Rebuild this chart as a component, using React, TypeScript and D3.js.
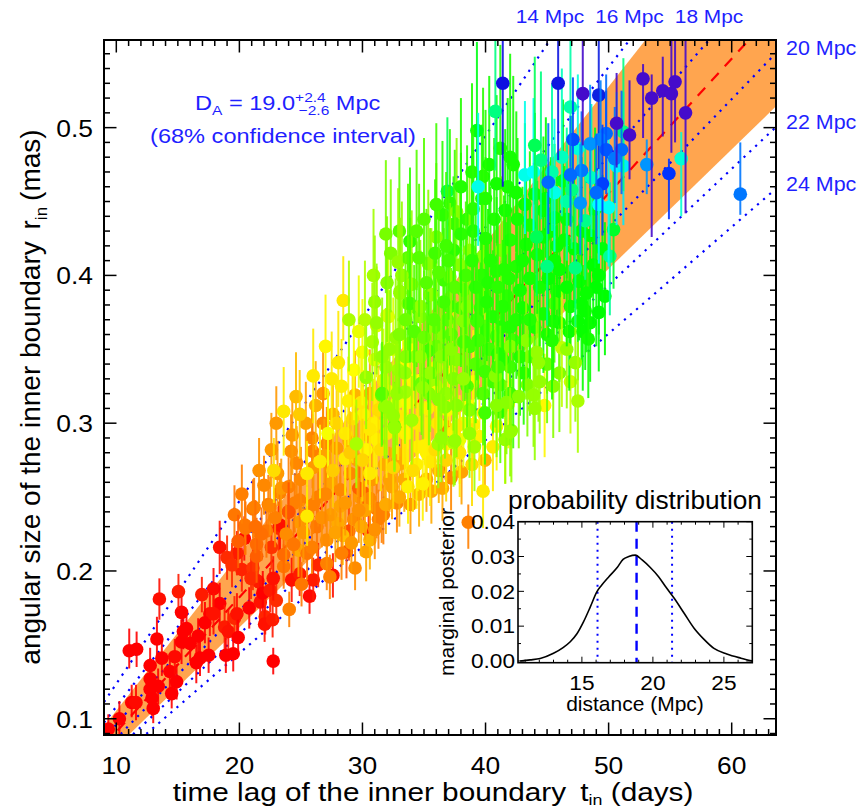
import React from 'react';
import * as d3 from 'd3';

type Pt = [number, number, number, number, number]; // t_in, r_in, errUp, errDown, hue

const redPoints: Pt[] = [
[9.35,.093,.010,.010,0],[10.25,.100,.012,.012,0],[11.25,.111,.012,.010,0],[11.6,.111,.012,.012,2],[13.0,.107,.010,.010,0],[12.9,.114,.012,.012,0],[11.05,.146,.015,.012,0],[11.65,.147,.012,.012,0],[12.75,.136,.012,.012,0],[12.75,.127,.014,.012,0],[13.3,.154,.015,.015,0],[13.5,.181,.014,.014,3],[13.7,.141,.012,.012,0],[12.75,.120,.012,.010,0],[13.4,.122,.012,.012,0],[14.35,.132,.012,.012,0],[14.5,.117,.010,.010,0],[14.9,.125,.012,.012,0],[14.75,.142,.012,.012,2],[15.3,.152,.015,.015,0],[15.45,.159,.012,.012,0],[15.3,.172,.015,.012,0],[15.05,.186,.012,.012,6],[15.7,.161,.012,.012,0],[16.0,.151,.012,.012,0],[16.65,.156,.012,.012,0],[16.5,.138,.012,.014,0],[16.8,.141,.012,.012,0],[16.95,.184,.012,.012,6],[17.6,.171,.015,.015,4],[17.2,.165,.014,.014,0],[17.5,.143,.012,.012,0],[17.9,.188,.014,.014,2],[18.4,.178,.014,.014,0],[18.4,.216,.018,.018,4],[17.9,.171,.014,.014,4],[18.8,.162,.015,.015,6],[18.9,.143,.012,.012,0],[19.1,.159,.015,.015,4],[19.5,.144,.012,.012,0],[19.6,.168,.015,.015,9],[19.8,.171,.014,.014,4],[19.9,.155,.012,.012,0],[19.8,.212,.015,.015,6],[19.0,.209,.015,.015,10],[20.4,.222,.015,.015,2],[20.8,.175,.014,.014,0],[20.2,.201,.015,.015,8],[21.5,.193,.015,.015,6],[21.7,.179,.015,.015,4],[21.9,.185,.015,.015,0],[22.5,.187,.015,.015,6],[22.1,.169,.012,.012,9],[22.05,.164,.012,.012,4],[22.7,.167,.012,.012,6],[23.0,.180,.014,.014,10],[22.75,.139,.009,.009,0],[22.75,.195,.015,.015,4],[23.2,.229,.018,.018,9],[22.6,.216,.015,.015,12],[21.1,.202,.015,.015,12],[20.95,.195,.014,.014,10],[24.25,.194,.015,.015,4],[24.9,.198,.015,.015,6],[25.7,.183,.012,.012,2],[26.0,.194,.015,.015,6],[26.4,.204,.015,.015,9],[27.6,.197,.015,.015,4],[30.5,.227,.018,.018,6],[24.0,.240,.020,.020,9],[19.4,.204,.015,.015,11],[23.3,.231,.018,.018,4]
];

const orangePoints: Pt[] = [
[23.6,.203,.015,.015,28],[24.05,.174,.012,.012,30],[25.05,.191,.015,.015,28],[27.35,.196,.015,.015,30],[29.4,.202,.015,.015,33],[24.8,.214,.018,.018,40],[25.5,.212,.018,.018,28],[27.1,.205,.018,.018,30],[28.7,.213,.018,.018,20],[30.3,.213,.020,.020,38],[30.6,.221,.020,.020,42],[28.9,.227,.020,.020,18],[28.4,.224,.020,.020,45],[31.3,.235,.020,.020,30],[31.7,.238,.020,.020,30],[21.1,.242,.020,.020,28],[22.35,.245,.020,.020,30],[22.2,.227,.018,.018,28],[24.5,.246,.020,.020,30],[24.9,.233,.020,.020,36],[25.5,.238,.020,.020,30],[26.3,.230,.020,.020,28],[27.1,.221,.020,.020,33],[28.0,.232,.020,.020,40],[27.4,.238,.020,.020,36],[26.0,.245,.020,.020,30],[28.2,.244,.020,.020,38],[29.3,.235,.020,.020,33],[29.8,.250,.020,.020,36],[23.3,.253,.020,.020,30],[21.4,.218,.018,.018,25],[20.5,.229,.018,.018,28],[23.6,.211,.018,.018,25],[21.4,.210,.018,.018,22],
[26.8,.320,.030,.030,36],[23.0,.300,.025,.025,36],[26.8,.300,.025,.025,32],[27.6,.306,.025,.025,42],[25.9,.290,.025,.025,32],[25.95,.281,.025,.025,30],[27.1,.286,.025,.025,32],[24.65,.273,.025,.025,32],[23.4,.256,.020,.020,36],[24.0,.257,.020,.020,30],[21.2,.243,.020,.020,30],[22.5,.244,.020,.020,32],[24.0,.240,.020,.020,20],[24.9,.248,.020,.020,30],[20.45,.231,.020,.020,28],[26.4,.250,.020,.020,30],[27.4,.260,.022,.022,38],[28.2,.255,.022,.022,32],[29.0,.266,.022,.022,32],[29.7,.256,.022,.022,22],[30.07,.253,.022,.022,22],[30.6,.320,.030,.030,38],[31.15,.242,.020,.020,30],[30.6,.249,.020,.020,32],[31.56,.239,.020,.020,30],[32.8,.246,.020,.020,32],[33.0,.250,.020,.020,40],[35.6,.254,.022,.022,40],[37.2,.263,.022,.022,32],[38.05,.267,.022,.022,38],[39.95,.275,.025,.025,42],[36.2,.268,.022,.022,42],[38.6,.233,.012,.018,30],[36.7,.298,.030,.030,28],[29.4,.319,.030,.030,42],
[21.8,.225,.018,.018,26],[22.9,.236,.020,.020,30],[23.8,.225,.020,.020,33],[24.4,.218,.018,.018,28],[25.2,.226,.020,.020,35],[25.9,.216,.018,.018,30],[26.7,.236,.020,.020,34],[27.8,.226,.020,.020,38],[28.3,.212,.018,.018,30],[29.1,.219,.020,.020,36],[29.9,.230,.020,.020,40],[30.2,.241,.020,.020,38],[31.0,.228,.020,.020,34],[31.9,.245,.020,.020,40],[32.4,.257,.022,.022,38],[33.4,.262,.022,.022,40],[33.9,.245,.020,.020,36],[34.6,.252,.022,.022,42],[35.2,.262,.022,.022,38],[36.5,.256,.022,.022,40],[22.0,.258,.020,.020,32],[23.1,.266,.022,.022,36],[24.2,.281,.025,.025,34],[25.0,.262,.022,.022,32],[26.0,.270,.022,.022,36],[26.9,.278,.025,.025,38],[27.9,.283,.025,.025,36],[28.9,.288,.025,.025,40],[29.6,.275,.025,.025,38],[30.8,.262,.022,.022,36],[31.8,.272,.025,.025,40],[32.7,.280,.025,.025,42],[25.4,.300,.028,.028,38],[24.3,.292,.027,.027,36],[22.6,.282,.025,.025,36],[21.6,.268,.022,.022,34],[20.2,.252,.020,.020,30],[19.6,.238,.020,.020,28],[19.9,.220,.018,.018,22],[21.3,.230,.018,.018,26],[27.0,.252,.022,.022,32],[28.6,.246,.022,.022,36],[29.7,.241,.022,.022,34],[32.2,.262,.022,.022,38],[33.2,.273,.025,.025,40],[30.4,.292,.027,.027,40],[26.2,.312,.030,.030,42],[24.6,.318,.030,.030,44]
];

const yellowPoints: Pt[] = [
[28.44,.383,.030,.027,55],[28.04,.341,.035,.030,55],[23.6,.308,.030,.030,55],[24.9,.306,.030,.030,48],[27.2,.293,.030,.030,62],[26.55,.274,.025,.025,55],[22.8,.268,.022,.022,52],[25.5,.266,.022,.022,55],[25.5,.237,.020,.020,55],[27.6,.268,.025,.025,48],[28.6,.276,.025,.025,55],[30.6,.266,.025,.025,55],[30.3,.282,.025,.025,58],[28.6,.293,.030,.030,55],[28.85,.315,.030,.030,57],[30.07,.306,.030,.030,57],[30.9,.300,.030,.030,55],[31.7,.329,.035,.030,68],[31.0,.343,.035,.035,68],[31.15,.366,.040,.035,68],[32.1,.372,.040,.035,68],[32.5,.350,.035,.035,68],[33.3,.338,.035,.035,58],[33.9,.352,.035,.035,58],[36.0,.338,.035,.035,57],[34.7,.329,.035,.035,58],[32.8,.314,.035,.035,65],[31.96,.293,.030,.030,55],[33.45,.293,.030,.030,55],[34.5,.284,.030,.030,57],[34.4,.272,.030,.030,57],[35.2,.280,.030,.030,57],[35.5,.274,.030,.030,55],[34.9,.259,.025,.025,57],[33.7,.257,.025,.025,57],[39.8,.254,.025,.025,55],[36.8,.286,.030,.030,58],[37.9,.289,.030,.030,65],[39.0,.299,.030,.030,57],[38.2,.300,.030,.030,65],[39.8,.307,.030,.030,57],[41.85,.313,.030,.030,57],
[32.0,.373,.040,.035,68],[44.8,.312,.035,.035,58],[46.9,.328,.035,.035,72],[33.86,.354,.035,.035,72],[34.1,.329,.035,.035,58],[36.0,.325,.035,.035,58],[37.1,.333,.035,.035,58],[39.0,.328,.035,.035,58],[37.4,.342,.035,.035,57],[39.0,.299,.030,.030,57],[39.5,.291,.030,.030,57],[41.6,.289,.030,.030,57],[37.4,.294,.030,.030,57],[35.1,.285,.030,.030,57],[33.6,.293,.030,.030,57],[33.3,.302,.030,.030,57],[31.15,.289,.030,.030,57],[31.0,.299,.030,.030,57],[40.0,.362,.035,.035,72],
[29.2,.303,.030,.030,52],[29.9,.314,.030,.030,55],[30.6,.296,.030,.030,55],[31.3,.309,.030,.030,52],[32.0,.322,.032,.032,58],[32.9,.305,.030,.030,55],[33.7,.314,.032,.032,58],[34.4,.300,.030,.030,55],[35.3,.310,.032,.032,56],[36.1,.300,.030,.030,55],[36.9,.309,.032,.032,58],[37.7,.298,.030,.030,55],[38.6,.312,.032,.032,58],[35.9,.282,.030,.030,52],[34.1,.268,.028,.028,52],[36.8,.275,.028,.028,50],[37.9,.280,.030,.030,54],[38.9,.272,.028,.028,52],[40.6,.284,.030,.030,55],[40.9,.298,.030,.030,58],[31.5,.282,.028,.028,52],[32.5,.270,.028,.028,50],[30.0,.275,.028,.028,50],[29.0,.280,.028,.028,48],[27.9,.300,.030,.030,50],[28.3,.325,.032,.032,56],[29.3,.336,.034,.034,60],[30.0,.348,.036,.036,62],[29.7,.362,.038,.038,65],[27.5,.330,.032,.032,55],[27.0,.352,.035,.035,58],[26.0,.332,.032,.032,55]
];

const greenPoints: Pt[] = [
[28.9,.370,.040,.035,80],[29.5,.286,.030,.030,80],[31.56,.319,.035,.035,95],[31.8,.311,.035,.035,85],[30.3,.331,.035,.035,85],[32.9,.336,.035,.035,82],[33.45,.321,.035,.035,82],[34.3,.345,.035,.035,85],[35.35,.349,.040,.035,100],[35.5,.329,.035,.035,82],[34.8,.327,.035,.035,95],[34.0,.302,.030,.030,82],[32.6,.298,.030,.030,95],[32.5,.305,.030,.030,85],[37.4,.287,.030,.030,80],[36.16,.286,.030,.030,82],[39.1,.284,.030,.030,82],[36.7,.311,.035,.035,88],[37.65,.312,.035,.035,88],[38.7,.309,.035,.035,88],[41.2,.308,.035,.035,100],[42.1,.295,.035,.035,85],[41.6,.289,.030,.030,85],[36.8,.320,.035,.035,85],[38.5,.325,.040,.035,100],[39.8,.320,.040,.035,100],[40.6,.328,.040,.035,105],[42.25,.318,.040,.035,105],[36.0,.365,.045,.040,100],[36.6,.359,.045,.040,88],[37.65,.343,.040,.040,88],[38.2,.355,.045,.040,100],[38.7,.352,.045,.040,105],[39.3,.370,.045,.040,105],[40.1,.363,.045,.040,88],[40.9,.359,.045,.040,105],[41.2,.347,.045,.040,105],[42.0,.338,.040,.040,105],[42.25,.356,.045,.040,105],[34.4,.378,.045,.040,100],[35.5,.387,.045,.040,100],[33.05,.388,.045,.040,85],[33.9,.394,.045,.040,85],[33.7,.381,.045,.040,100],[34.7,.372,.045,.040,88],[36.6,.397,.050,.040,105],[37.1,.379,.045,.040,105],[39.8,.385,.050,.040,110],[38.2,.390,.050,.040,105],[41.7,.386,.050,.040,110],[39.7,.400,.050,.040,110],
[36.9,.370,.045,.040,100],[38.0,.378,.045,.040,105],[39.6,.378,.045,.040,110],[40.6,.372,.045,.040,112],[41.3,.365,.045,.040,112],[43.0,.378,.045,.040,115],[44.0,.365,.045,.040,115],[45.0,.360,.045,.040,112],[46.0,.368,.045,.040,115],[46.8,.362,.045,.040,118],[48.5,.368,.045,.040,118],[49.2,.375,.045,.040,120],
[36.0,.352,.045,.040,95],[37.2,.360,.045,.040,100],[40.3,.350,.040,.040,105],[43.6,.345,.040,.040,100],[45.0,.340,.040,.040,95],[46.0,.334,.040,.040,90],[45.5,.325,.040,.035,88],[43.4,.326,.040,.035,90],[41.2,.326,.040,.035,95],[39.2,.340,.040,.040,100],[37.4,.330,.040,.035,90],[36.2,.316,.038,.035,88],[35.4,.320,.038,.035,88],[33.5,.345,.040,.040,88],[32.7,.358,.040,.040,85],[31.9,.338,.040,.035,82],[30.8,.355,.040,.040,80],[30.2,.370,.040,.040,78],[31.0,.382,.045,.040,85],[32.0,.395,.045,.040,88],[32.3,.415,.050,.040,90],[31.9,.428,.050,.040,92],[33.0,.430,.050,.040,100],[30.9,.400,.045,.040,82],
[41.2,.486,.070,.040,112],[42.0,.480,.070,.040,115],[42.25,.475,.060,.040,115],[39.8,.467,.060,.040,110],[39.7,.452,.050,.040,112],[36.9,.457,.050,.040,140],[37.1,.449,.050,.040,110],[36.5,.441,.050,.040,110],[37.65,.443,.050,.040,88],[38.5,.438,.050,.040,110],[37.5,.435,.050,.040,105],[33.86,.423,.050,.040,110],[36.0,.426,.050,.040,88],[32.9,.409,.050,.040,85],[33.7,.412,.050,.040,100],[35.35,.408,.050,.040,88],[33.2,.400,.050,.040,85],[33.05,.389,.050,.040,85],[34.0,.394,.050,.040,85],[35.6,.387,.045,.040,85],[33.86,.381,.045,.040,105],[34.7,.379,.045,.040,85],[37.1,.399,.050,.040,88],[37.9,.407,.050,.040,88],[38.7,.417,.050,.040,88],[37.4,.417,.050,.040,110],[39.8,.413,.050,.040,88],[39.7,.400,.050,.040,110],[40.9,.403,.050,.040,112],[41.3,.417,.050,.040,90],[42.0,.424,.050,.040,112],[42.5,.406,.050,.040,112],[43.3,.421,.050,.040,115],[43.6,.434,.050,.040,115],[42.5,.456,.055,.040,115],[44.7,.444,.050,.040,118],[45.6,.439,.050,.040,118],[44.7,.426,.050,.040,118],[45.8,.420,.050,.040,118],[45.8,.389,.045,.040,118],[48.5,.427,.050,.040,120],[48.75,.407,.050,.040,120],[49.2,.400,.050,.040,120],[49.0,.392,.050,.040,120],[49.7,.386,.050,.040,120],[46.6,.438,.050,.040,118],[46.3,.464,.055,.040,125],[47.8,.381,.045,.040,118],[48.1,.376,.045,.040,118],[47.5,.369,.045,.040,118],[47.9,.362,.045,.040,118],[48.35,.357,.045,.040,115],[46.9,.379,.045,.040,118],[45.6,.381,.045,.040,100],[45.5,.369,.045,.040,115],[44.7,.374,.045,.040,115],[46.2,.351,.040,.040,75],[46.6,.350,.040,.040,85],[47.3,.341,.040,.040,85],[47.5,.315,.040,.035,80],[45.4,.356,.040,.040,112],[44.15,.348,.040,.040,85],[44.3,.341,.040,.040,85],[44.4,.328,.040,.035,85],[43.9,.319,.040,.035,85],[44.0,.310,.040,.035,85],[43.1,.334,.040,.035,112],[42.8,.345,.040,.040,112],[43.3,.356,.040,.040,88],[42.0,.352,.040,.040,88],[41.4,.343,.040,.040,112],[41.0,.347,.040,.040,112],[42.0,.365,.045,.040,112],[42.5,.370,.045,.040,112],[43.6,.370,.045,.040,112],[41.4,.379,.045,.040,112],[40.1,.382,.045,.040,112],[38.5,.379,.045,.040,88],[38.2,.369,.045,.040,88],[39.3,.369,.045,.040,105],[39.4,.356,.040,.040,105],[38.3,.355,.040,.040,105],[37.2,.350,.040,.040,88],[36.4,.345,.040,.040,88],[35.35,.349,.040,.040,105],[34.7,.345,.040,.040,85],[32.2,.350,.040,.040,85],[31.6,.345,.040,.040,85],[31.15,.368,.040,.035,85],[31.6,.320,.035,.035,100],[31.96,.311,.035,.035,85],[32.8,.320,.035,.035,85],[33.45,.334,.035,.035,85],[34.9,.324,.035,.035,85],[35.5,.334,.035,.035,85],[38.2,.330,.035,.035,85],[39.95,.335,.035,.035,105],[40.8,.332,.035,.035,88],[41.0,.338,.035,.035,105],[42.0,.320,.035,.035,105],[42.7,.318,.035,.035,88],[41.7,.314,.035,.035,88],[40.9,.312,.035,.035,88],[39.95,.307,.035,.035,105],[38.7,.293,.030,.030,85],[42.0,.294,.030,.030,85],[37.5,.288,.030,.030,85],[36.4,.290,.030,.030,85],[32.6,.297,.030,.030,85],[39.3,.498,.060,.040,125],
[33.0,.360,.045,.040,90],[33.5,.370,.045,.040,95],[34.2,.362,.045,.040,100],[35.0,.358,.045,.040,95],[35.8,.370,.045,.040,100],[36.6,.382,.050,.040,105],[37.5,.392,.050,.040,100],[38.4,.400,.050,.040,105],[39.2,.392,.050,.040,110],[40.2,.395,.050,.040,112],[41.0,.392,.050,.040,110],[41.9,.398,.050,.040,112],[42.8,.390,.050,.040,115],[43.6,.398,.050,.040,115],[44.4,.392,.050,.040,115],[45.1,.398,.050,.040,118],[46.0,.404,.050,.040,118],[46.6,.392,.050,.040,118],[47.6,.396,.050,.040,118],[48.2,.388,.050,.040,118],
[34.6,.412,.050,.040,100],[35.9,.415,.050,.040,105],[36.8,.420,.050,.040,105],[38.0,.428,.055,.040,110],[39.0,.430,.055,.040,112],[40.0,.425,.055,.040,112],[40.7,.438,.055,.040,112],[41.6,.444,.055,.040,115],[42.6,.438,.055,.040,115],[43.2,.448,.055,.040,118],[44.0,.455,.055,.040,118],[44.9,.452,.055,.040,120],[45.3,.430,.050,.040,118],[46.4,.424,.050,.040,118],[47.2,.418,.050,.040,120],[47.8,.430,.050,.040,120],[49.5,.418,.050,.040,122],[48.9,.445,.055,.040,125],
[35.2,.395,.050,.040,100],[36.2,.402,.050,.040,100],[37.0,.410,.050,.040,105],[38.9,.410,.050,.040,110],[40.4,.410,.050,.040,112],[41.5,.404,.050,.040,112],[43.0,.410,.050,.040,115],[44.2,.414,.050,.040,115],[45.6,.410,.050,.040,118],
[38.0,.460,.060,.040,112],[38.9,.470,.060,.040,112],[40.3,.475,.060,.040,115],[40.9,.462,.060,.040,115],[41.8,.460,.060,.040,115],[36.0,.448,.055,.040,105],[35.0,.438,.055,.040,100],[34.4,.430,.055,.040,100],[40.0,.452,.060,.040,112],[39.0,.445,.055,.040,110]
];

const cyanPoints: Pt[] = [
[39.4,.460,.050,.040,175],[43.2,.468,.050,.040,175],[43.9,.470,.050,.040,180],[45.6,.456,.050,.040,175],[46.6,.450,.050,.040,158],[45.0,.406,.050,.040,150],[47.3,.405,.050,.040,150],[48.1,.437,.050,.040,152],[50.1,.413,.050,.040,155],[50.4,.431,.050,.040,130],[50.0,.446,.050,.040,178],[47.5,.486,.050,.040,172],[50.65,.474,.050,.040,182],[51.2,.474,.050,.040,185],[44.15,.426,.050,.040,140],[46.9,.514,.060,.040,160],[51.2,.497,.050,.040,150],[55.9,.479,.018,.039,170],[49.2,.448,.050,.040,180],[40.8,.511,.070,.040,150],
[44.5,.478,.060,.040,150],[45.4,.470,.060,.040,160],[46.2,.480,.060,.040,165],[44.0,.488,.060,.040,140],[48.6,.466,.050,.040,165],[47.0,.458,.050,.040,150]
];

const bluePoints: Pt[] = [
[41.4,.530,.060,.070,240],[45.9,.530,.060,.052,238],[49.2,.522,.050,.050,235],[49.8,.496,.040,.035,215],[49.35,.492,.040,.035,210],[48.5,.489,.040,.030,205],[47.1,.492,.042,.030,222],[49.8,.485,.040,.030,220],[51.05,.485,.040,.030,215],[50.5,.479,.035,.030,212],[53.1,.475,.017,.020,205],[54.9,.469,.010,.031,228],[60.7,.455,.035,.014,212],[47.8,.471,.040,.035,212],[49.5,.462,.040,.035,225],[49.0,.456,.040,.035,215],[47.7,.449,.040,.035,205],[45.1,.463,.040,.035,215],[46.9,.468,.040,.035,215]
];

const purplePoints: Pt[] = [
[47.9,.523,.040,.035,258],[52.8,.533,.010,.040,258],[53.5,.520,.016,.094,258],[54.4,.525,.023,.031,258],[55.1,.523,.037,.040,258],[55.4,.531,.030,.041,258],[56.25,.510,.050,.068,258],[50.65,.503,.034,.030,258],[51.7,.495,.037,.030,258]
];

// distance lines (Mpc)
const labelDistances = [14, 16, 18, 20, 22, 24];
const bestDistance = 19.0;
const distanceLow = 16.4;
const distanceHigh = 21.4;
const masPerLightDayPerMpc = 0.1731;

const xTickValues = [10, 20, 30, 40, 50, 60];
const yTickValues = [0.1, 0.2, 0.3, 0.4, 0.5];

// inset posterior
const insetDistance = [10.65, 11.35, 12.06, 13.0, 13.7, 14.18, 14.65, 15.12, 15.6, 16.06, 16.4, 16.9, 17.5, 17.9, 18.3, 18.76, 19.24, 19.8, 20.4, 20.9, 21.5, 22.2, 22.9, 23.6, 24.3, 25.2, 26.2, 27.0];
const insetPosterior = [0.0, 0.0003, 0.0007, 0.0022, 0.0039, 0.0055, 0.0078, 0.0113, 0.0156, 0.0199, 0.0218, 0.0242, 0.0269, 0.0292, 0.0300, 0.0304, 0.0290, 0.0269, 0.0242, 0.0213, 0.0180, 0.0137, 0.0094, 0.0062, 0.0036, 0.0020, 0.0008, 0.0];
const insetXTickValues = [15, 20, 25];
const insetYTickValues = [0, 0.01, 0.02, 0.03, 0.04];
const insetIntervalLines = [16.1, 21.35];
const insetBestLine = 18.85;

const FONT = "'Liberation Sans', Arial, Helvetica, sans-serif";
const BLUE = '#1f1fff';

function hueColor(h: number): string {
  if (h >= 250) return d3.hsl(h, 0.9, 0.42).formatHex();
  if (h >= 230) return d3.hsl(h, 0.88, 0.47).formatHex();
  return d3.hsl(h, 1, 0.5).formatHex();
}

function T(props: { x: number; y: number; size: number; sx?: number; anchor?: string; rot?: number; fill?: string; children: any }) {
  const { x, y, size, sx = 1, anchor = 'start', rot = 0, fill = '#000', children } = props;
  return (
    <g transform={`translate(${x},${y}) rotate(${rot}) scale(${sx},1)`}>
      <text x={0} y={0} fontSize={size} textAnchor={anchor as any} fill={fill} fontFamily={FONT}>{children}</text>
    </g>
  );
}

export default function App() {
  const W = 859, H = 809;
  const x = d3.scaleLinear().domain([9, 63.6]).range([104, 776]);
  const y = d3.scaleLinear().domain([0.089, 0.5593]).range([735, 40]);
  const [xL, xR] = x.range();
  const [yB, yT] = y.range();
  const [tMin, tMax] = x.domain();
  const [, rMax] = y.domain();
  const K = masPerLightDayPerMpc;

  const tSpan = [tMin, tMax];
  const band = d3.area<number>().x(t => x(t)).y0(t => y(K * t / distanceHigh)).y1(t => y(K * t / distanceLow))(tSpan) || '';
  const distLine = (D: number) => d3.line<number>().x(t => x(t)).y(t => y(K * t / D))(tSpan) || '';

  const xMinor = d3.range(Math.ceil(tMin), Math.floor(tMax) + 1);
  const yMinor = d3.range(9, 56).map(v => v / 100);

  const allPoints = [redPoints, orangePoints, yellowPoints, greenPoints, cyanPoints, bluePoints, purplePoints].flat();

  // inset
  const ix = d3.scaleLinear().domain([10.5, 27]).range([518, 752.3]);
  const iy = d3.scaleLinear().domain([-0.0005, 0.04]).range([662.7, 521.7]);
  const [ixL, ixR] = ix.range();
  const [iyB, iyT] = iy.range();
  const curve = d3.line<number>().x((_, i) => ix(insetDistance[i])).y(v => iy(v)).curve(d3.curveMonotoneX)(insetPosterior) || '';
  const insetXMinor = d3.range(11, 28);
  const insetYMinor = d3.range(0, 41, 5).map(v => v / 1000);

  return (
    <svg width={W} height={H} viewBox={`0 0 ${W} ${H}`} style={{ position: 'absolute', left: 0, top: 0, background: '#fff' }}>
      <defs>
        <clipPath id="plotClip"><rect x={xL} y={yT} width={xR - xL} height={yB - yT} /></clipPath>
      </defs>
      <rect x={0} y={0} width={W} height={H} fill="#fff" />
      <g clipPath="url(#plotClip)">
        <path d={band} fill="#ffa54f" stroke="none" />
        <path d={distLine(bestDistance)} fill="none" stroke="#ff0000" strokeWidth={2.2} strokeDasharray="11 9" />
        {labelDistances.map(D => (
          <path key={D} d={distLine(D)} fill="none" stroke="#0000ff" strokeWidth={2.2} strokeDasharray="2.2 5.8" />
        ))}
        {allPoints.map(([t, r, up, dn, h], i) => {
          const c = hueColor(h);
          return (
            <g key={i}>
              <line x1={x(t)} x2={x(t)} y1={y(r + up)} y2={y(r - dn)} stroke={c} strokeWidth={2} strokeOpacity={0.9} />
              <circle cx={x(t)} cy={y(r)} r={6.8} fill={c} />
            </g>
          );
        })}
      </g>

      {/* frame and ticks */}
      <rect x={xL} y={yT} width={xR - xL} height={yB - yT} fill="none" stroke="#000" strokeWidth={2} />
      {xMinor.map(v => {
        const len = xTickValues.includes(v) ? 12.5 : 6;
        return (
          <g key={'xm' + v}>
            <line x1={x(v)} x2={x(v)} y1={yB} y2={yB - len} stroke="#000" strokeWidth={1.5} />
            <line x1={x(v)} x2={x(v)} y1={yT} y2={yT + len} stroke="#000" strokeWidth={1.5} />
          </g>
        );
      })}
      {yMinor.map(v => {
        const major = yTickValues.some(m => Math.abs(m - v) < 1e-6);
        const len = major ? 12.5 : 6;
        return (
          <g key={'ym' + v}>
            <line x1={xL} x2={xL + len} y1={y(v)} y2={y(v)} stroke="#000" strokeWidth={1.5} />
            <line x1={xR} x2={xR - len} y1={y(v)} y2={y(v)} stroke="#000" strokeWidth={1.5} />
          </g>
        );
      })}
      {xTickValues.map(v => (
        <T key={'xl' + v} x={x(v)} y={774} size={24} sx={1.1} anchor="middle">{String(v)}</T>
      ))}
      {yTickValues.map(v => (
        <T key={'yl' + v} x={93} y={y(v) + 9} size={24} sx={1.1} anchor="end">{v.toFixed(1)}</T>
      ))}

      {/* axis titles */}
      <T x={433} y={801} size={25} sx={1.19} anchor="middle">
        time lag of the inner boundary <tspan dx={5}>t</tspan><tspan fontSize={15} dy={4}>in</tspan><tspan dy={-4}> (days)</tspan>
      </T>
      <T x={40} y={397} size={28} rot={-90} anchor="middle">
        angular size of the inner boundary <tspan dx={4}>r</tspan><tspan fontSize={17} dy={7}>in</tspan><tspan dy={-7} dx={6}>(mas)</tspan>
      </T>

      {/* distance labels */}
      {labelDistances.map(D => {
        const tTop = rMax * D / K;
        if (tTop <= tMax) {
          return <T key={'dl' + D} x={x(tTop)} y={23} size={19} sx={1.1} anchor="middle" fill={BLUE}>{`${D} Mpc`}</T>;
        }
        return <T key={'dl' + D} x={786} y={y(K * tMax / D) + 2} size={19.5} sx={1.1} fill={BLUE}>{`${D} Mpc`}</T>;
      })}

      {/* annotation */}
      <T x={195} y={110} size={20.5} sx={1.15} fill={BLUE}>
        D<tspan fontSize={13.5} dy={5}>A</tspan><tspan dy={-5}> = 19.0</tspan><tspan fontSize={13.5} dy={-8.5}>+2.4</tspan><tspan fontSize={13.5} dx={-23.5} dy={13.5}>−2.6</tspan><tspan dy={-5}> Mpc</tspan>
      </T>
      <T x={283} y={143} size={20.5} sx={1.15} anchor="middle" fill={BLUE}>(68% confidence interval)</T>

      {/* inset */}
      <g>
        {insetIntervalLines.map(d => (
          <line key={'il' + d} x1={ix(d)} x2={ix(d)} y1={iyT} y2={iyB} stroke="#0000ff" strokeWidth={2} strokeDasharray="2 5" />
        ))}
        <line x1={ix(insetBestLine)} x2={ix(insetBestLine)} y1={iyT} y2={iyB} stroke="#0000ff" strokeWidth={2.4} strokeDasharray="10 7" />
        <path d={curve} fill="none" stroke="#000" strokeWidth={1.6} />
        <rect x={ixL} y={iyT} width={ixR - ixL} height={iyB - iyT} fill="none" stroke="#000" strokeWidth={1.6} />
        {insetXMinor.map(v => {
          const len = insetXTickValues.includes(v) ? 6 : 3;
          return (
            <g key={'ixm' + v}>
              <line x1={ix(v)} x2={ix(v)} y1={iyB} y2={iyB - len} stroke="#000" strokeWidth={1} />
              <line x1={ix(v)} x2={ix(v)} y1={iyT} y2={iyT + len} stroke="#000" strokeWidth={1} />
            </g>
          );
        })}
        {insetYMinor.map(v => {
          const major = insetYTickValues.some(m => Math.abs(m - v) < 1e-9);
          const len = major ? 6 : 3;
          return (
            <g key={'iym' + v}>
              <line x1={ixL} x2={ixL + len} y1={iy(v)} y2={iy(v)} stroke="#000" strokeWidth={1} />
              <line x1={ixR} x2={ixR - len} y1={iy(v)} y2={iy(v)} stroke="#000" strokeWidth={1} />
            </g>
          );
        })}
        {insetYTickValues.map(v => (
          <T key={'iyl' + v} x={515} y={iy(v) + 7.3} size={21} sx={1.08} anchor="end">{v.toFixed(2)}</T>
        ))}
        {insetXTickValues.map(v => (
          <T key={'ixl' + v} x={ix(v)} y={690} size={21} sx={1.08} anchor="middle">{String(v)}</T>
        ))}
        <T x={635} y={509} size={25} sx={1.05} anchor="middle">probability distribution</T>
        <T x={635} y={711} size={20} sx={1.05} anchor="middle">distance (Mpc)</T>
        <T x={454} y={592} size={21} rot={-90} anchor="middle">marginal posterior</T>
      </g>
    </svg>
  );
}
